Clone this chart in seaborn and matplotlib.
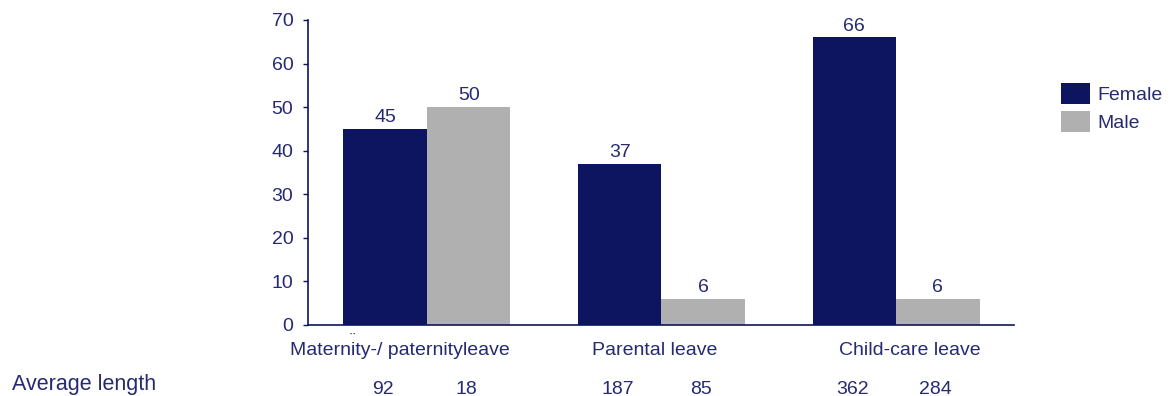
import matplotlib
matplotlib.use("Agg")
import matplotlib.pyplot as plt
import seaborn as sns
import pandas as pd
from matplotlib.patches import Patch

categories = ["Maternity-/ paternityleave", "Parental leave", "Child-care leave"]
female_share = [45, 37, 66]
male_share = [50, 6, 6]
female_length = [92, 187, 362]
male_length = [18, 85, 284]
series = ["Female", "Male"]

NAVY = "#0e1560"
GREY = "#b0b0b0"
TEXT = "#252a72"
FS = 14

sns.set_theme(style="white")
plt.rcParams["font.family"] = ["Liberation Sans", "DejaVu Sans"]

df = pd.DataFrame({
    "category": categories * 2,
    "sex": [series[0]] * 3 + [series[1]] * 3,
    "value": female_share + male_share,
})

fig = plt.figure(figsize=(11.74, 3.96), dpi=100)
ax = fig.add_axes([0.2624, 0.1793, 0.8637 - 0.2624, 0.9495 - 0.1793])

sns.barplot(data=df, x="category", y="value", hue="sex", order=categories,
            hue_order=series, palette=[NAVY, GREY], width=0.712, gap=0,
            saturation=1, legend=False, ax=ax, edgecolor="none", linewidth=0)

ax.set_xlim(-0.507, 2.503)
ax.set_ylim(0, 70)
ax.set_yticks(range(0, 71, 10))
ax.set_xlabel("")
ax.set_ylabel("")

# category captions sit slightly off the group centres
label_shift = [-0.115, -0.03, 0.06]
ax.set_xticks([i + s for i, s in enumerate(label_shift)])
ax.set_xticklabels(categories)

for side in ("top", "right"):
    ax.spines[side].set_visible(False)
for side in ("left", "bottom"):
    ax.spines[side].set_color(NAVY)
    ax.spines[side].set_linewidth(1.2)

ax.tick_params(axis="y", which="major", direction="out", length=3.6, width=1,
               color=NAVY, labelcolor=TEXT, labelsize=FS, pad=7, left=True)
ax.tick_params(axis="x", length=0, labelcolor=TEXT, labelsize=FS, pad=12)

# value labels above bars
for container in ax.containers:
    ax.bar_label(container, fmt="%d", padding=2, color=TEXT, fontsize=FS)

# average length row beneath each bar
lengths = [female_length, male_length]
for container, vals in zip(ax.containers, lengths):
    for bar, v in zip(container, vals):
        xc = bar.get_x() + bar.get_width() / 2
        ax.annotate(str(v), xy=(xc, 0), xycoords=("data", "axes fraction"),
                    xytext=(-1.5, -49.5), textcoords="offset points",
                    ha="center", va="baseline", color=TEXT, fontsize=FS)

# small diaeresis mark just under the first group
ax.annotate("¨", xy=(0, 0), xycoords=("data", "axes fraction"),
            xytext=(-54, -11), textcoords="offset points",
            ha="center", va="center", color=TEXT, fontsize=12)

fig.text(12 / 1174, 1 - 390 / 396, "Average length", ha="left", va="baseline",
         color=TEXT, fontsize=15.5)

handles = [Patch(facecolor=NAVY, edgecolor="none"), Patch(facecolor=GREY, edgecolor="none")]
fig.legend(handles, series, loc="upper left", bbox_to_anchor=(1057 / 1174, 1 - 79 / 396),
           frameon=False, fontsize=14, labelcolor=TEXT, handlelength=1.5,
           handleheight=1.3, handletextpad=0.4, labelspacing=0.35, borderaxespad=0,
           borderpad=0.2)

fig.savefig("out.png", dpi=100)
